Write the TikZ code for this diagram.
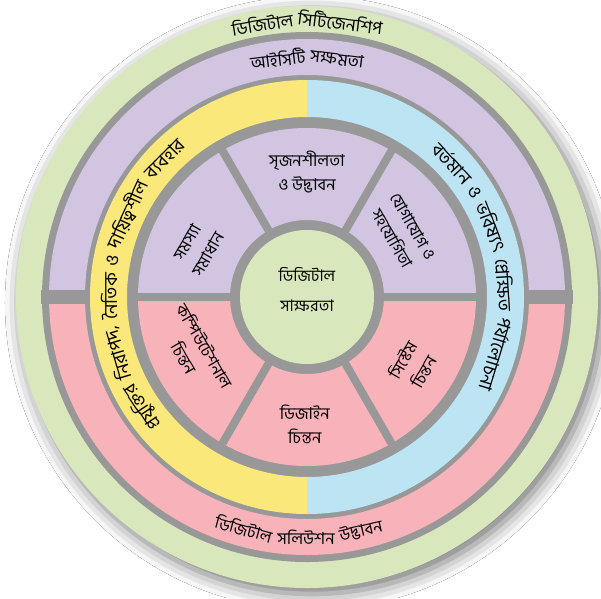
\documentclass[tikz,border=0pt]{standalone}
\usepackage{fontspec}
\newfontfamily\bn[Script=Bengali]{Hind Siliguri}
\usetikzlibrary{shadows.blur}
\definecolor{ringgreen}{RGB}{217,232,188}
\definecolor{ringpurple}{RGB}{210,197,226}
\definecolor{ringpink}{RGB}{248,178,186}
\definecolor{ringyellow}{RGB}{250,232,122}
\definecolor{ringblue}{RGB}{188,228,242}
\definecolor{ringgrey}{RGB}{152,152,152}
\def\ringsize{17}
\def\wordgap{5}
\def\ringfont{\bn\fontsize{\ringsize}{20}\selectfont}
\tikzset{
  ringword/.style={font=\ringfont, inner sep=0pt},
  sectortext/.style={font=\bn\fontsize{16.5}{24}\selectfont, inner sep=0pt, align=center},
  divider/.style={ringgrey, line width=8}
}
\newsavebox\wordbox
\newdimen\wordlen
\newcommand\getwordlen[1]{%
  \pgfinterruptpicture
    \sbox\wordbox{\ringfont#1}%
    \global\wordlen=\wd\wordbox
  \endpgfinterruptpicture}
\newcommand\ringtext[5]{%
  \gdef\totlen{0}%
  \foreach \w in {#5}{%
    \getwordlen{\w}%
    \pgfmathsetmacro\tmp{\totlen+\wordlen+\wordgap}%
    \xdef\totlen{\tmp}%
  }%
  \pgfmathsetmacro\tmp{#3+(#4)*(\totlen-\wordgap)*28.6479/#2}%
  \xdef\curang{\tmp}%
  \foreach \w [count=\i] in {#5}{%
    \getwordlen{\w}%
    \pgfmathsetmacro\midang{\curang-(#4)*\wordlen*28.6479/#2}%
    \pgfmathsetmacro\rot{\midang-(#4)*90}%
    \node (#1\i) at (\midang:#2) [ringword, rotate=\rot] {\w};
    \pgfmathsetmacro\tmp{\curang-(#4)*(\wordlen+\wordgap)*57.2958/#2}%
    \xdef\curang{\tmp}%
  }%
}
\begin{document}
\begin{tikzpicture}[x=1pt,y=1pt]
\useasboundingbox (-307,-301) rectangle (294,297);
\fill[white] (-307,-301) rectangle (294,297);
\fill[ringgreen, blur shadow={shadow xshift=5pt, shadow yshift=-6pt, shadow blur radius=16pt, shadow opacity=55}] (0,0) circle (291);
\fill[ringgrey] (0,0) circle (265);
\fill[ringpurple] (0:258) arc[start angle=0, end angle=180, radius=258] -- (180:222) arc[start angle=180, end angle=0, radius=222] -- cycle;
\fill[ringpink] (0:258) arc[start angle=0, end angle=-180, radius=258] -- (180:222) arc[start angle=-180, end angle=0, radius=222] -- cycle;
\draw[ringgrey, line width=14] (-266,0) -- (-216,0) (216,0) -- (266,0);
\fill[ringyellow] (90:217) arc[start angle=90, end angle=270, radius=217] -- (270:180) arc[start angle=270, end angle=90, radius=180] -- cycle;
\fill[ringblue] (90:217) arc[start angle=90, end angle=-90, radius=217] -- (-90:180) arc[start angle=-90, end angle=90, radius=180] -- cycle;
\fill[ringpurple] (0:169) arc[start angle=0, end angle=180, radius=169] -- (180:77) arc[start angle=180, end angle=0, radius=77] -- cycle;
\fill[ringpink] (0:169) arc[start angle=0, end angle=-180, radius=169] -- (180:77) arc[start angle=-180, end angle=0, radius=77] -- cycle;
\foreach \a in {0,60,...,300}
  \draw[divider] (\a:76) -- (\a:170);
\fill[ringgreen] (0,0) circle (67);

\def\ringsize{17.5}
\ringtext{citizen}{277}{90}{1}{ডিজিটাল, সিটিজেনশিপ}
\def\ringsize{17}
\ringtext{ict}{240}{90}{1}{আইসিটি, সক্ষমতা}
\def\ringsize{16.5}
\ringtext{solution}{240}{268}{-1}{ডিজিটাল, সলিউশন, উদ্ভাবন}
\def\ringsize{18.5}\def\wordgap{7}
\ringtext{safe}{198}{175}{1}{প্রযুক্তির, {নিরাপদ,}, নৈতিক, ও, দায়িত্বশীল, ব্যবহার}
\ringtext{future}{198}{11}{1}{বর্তমান, ও, ভবিষ্যৎ, প্রেক্ষিত, পর্যালোচনা}

\node (create) at (90:125) [sectortext] {সৃজনশীলতা\\ও উদ্ভাবন};
\node (comm) at (34:115) [sectortext, rotate=-60] {যোগাযোগ ও\\সহযোগিতা};
\node (problem) at (156:120) [sectortext, rotate=60] {সমস্যা\\সমাধান};
\node (comput) at (206:125) [sectortext, rotate=-60] {কম্পিউটেশনাল\\চিন্তন};
\node (design) at (269:127) [sectortext] {ডিজাইন\\চিন্তন};
\node (system) at (-33:126) [sectortext, rotate=60] {সিস্টেম\\চিন্তন};
\node (literacy) at (0,7) [sectortext, font=\bn\fontsize{16}{30}\selectfont] {ডিজিটাল\\সাক্ষরতা};
\end{tikzpicture}
\end{document}
